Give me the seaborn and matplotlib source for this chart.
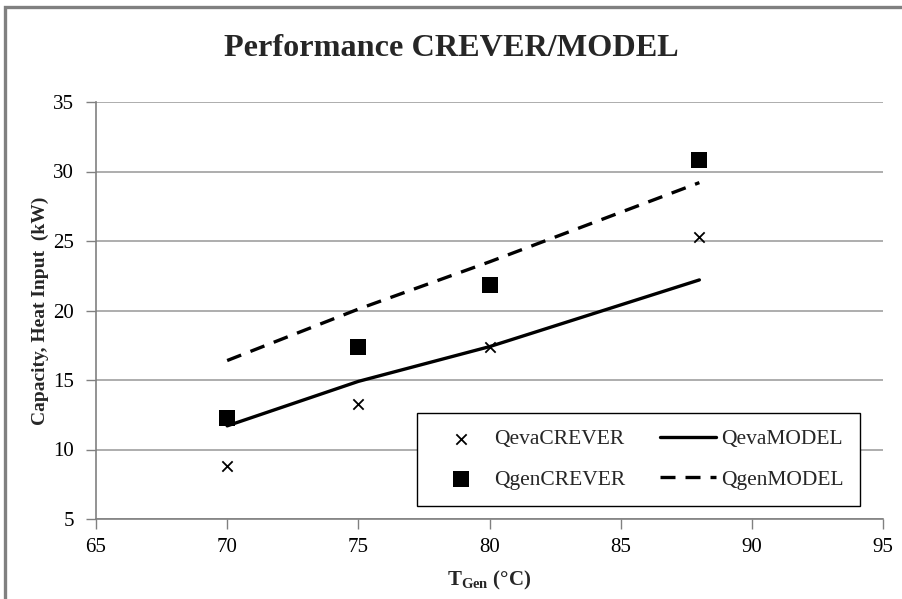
import matplotlib
matplotlib.use("Agg")
import matplotlib.pyplot as plt
import seaborn as sns
import pandas as pd
from matplotlib.patches import Rectangle

# ---- data ----
t_gen = [70, 75, 80, 88]
qeva_crever = [8.8, 13.3, 17.4, 25.3]
qgen_crever = [12.3, 17.4, 21.8, 30.8]
qeva_model = [11.7, 14.9, 17.4, 22.2]
qgen_model = [16.4, 20.1, 23.5, 29.2]
x_ticks = [65, 70, 75, 80, 85, 90, 95]
y_ticks = [5, 10, 15, 20, 25, 30, 35]

sns.set_style("white")
plt.rcParams['font.family'] = ['Liberation Serif', 'DejaVu Serif']
plt.rcParams['mathtext.fontset'] = 'custom'
plt.rcParams['mathtext.bf'] = 'Liberation Serif:bold'
plt.rcParams['mathtext.rm'] = 'Liberation Serif'
plt.rcParams['mathtext.it'] = 'Liberation Serif:italic'

df_pts = pd.DataFrame({"x": t_gen * 2,
                       "y": qeva_crever + qgen_crever,
                       "s": ["QevaCREVER"] * 4 + ["QgenCREVER"] * 4})
df_lines = pd.DataFrame({"x": t_gen * 2,
                         "y": qeva_model + qgen_model,
                         "s": ["QevaMODEL"] * 4 + ["QgenMODEL"] * 4})

fig = plt.figure(figsize=(9.03, 5.99), dpi=100)
ax = fig.add_axes([96/903, 1-519/599, (883-96)/903, (519-102)/599])

# outer chart border (left and top visible)
fig.patches.append(Rectangle((5/903, -0.1), 1.2, 1.1-7/599, transform=fig.transFigure,
                             fill=False, edgecolor="#808080", linewidth=2.4, zorder=0))

ax.grid(axis="y", color="#a0a0a0", linewidth=1.2)
ax.grid(axis="x", visible=False)
ax.set_axisbelow(True)

sns.lineplot(data=df_lines[df_lines.s == "QevaMODEL"], x="x", y="y", ax=ax,
             color="black", linewidth=2.4, label="QevaMODEL", zorder=3)
sns.lineplot(data=df_lines[df_lines.s == "QgenMODEL"], x="x", y="y", ax=ax,
             color="black", linewidth=2.4, label="QgenMODEL", zorder=3)
ax.lines[-1].set_dashes([4.5, 3.0])

sns.scatterplot(data=df_pts[df_pts.s == "QevaCREVER"], x="x", y="y", ax=ax,
                marker="x", color="black", s=55, linewidth=1.3,
                label="QevaCREVER", zorder=4)
sns.scatterplot(data=df_pts[df_pts.s == "QgenCREVER"], x="x", y="y", ax=ax,
                marker="s", color="black", s=125, linewidth=0,
                label="QgenCREVER", zorder=4)

ax.set_xlim(65, 95)
ax.set_ylim(5, 35)
ax.set_xticks(x_ticks)
ax.set_yticks(y_ticks)
ax.tick_params(axis="both", labelsize=15, colors="black", length=7,
               width=1.0, direction="out", color="#808080")
ax.tick_params(axis="y", pad=9)
ax.tick_params(axis="x", pad=7)
ax.xaxis.set_ticks_position("bottom")
ax.yaxis.set_ticks_position("left")

for side in ["top", "right"]:
    ax.spines[side].set_visible(False)
for side in ["left", "bottom"]:
    ax.spines[side].set_color("#808080")
    ax.spines[side].set_linewidth(1.2)

ax.set_xlabel(r"T$_{\mathbf{Gen}}$ (°C)", fontsize=15, fontweight="bold", labelpad=8)
ax.set_ylabel("Capacity, Heat Input  (kW)", fontsize=14, fontweight="bold", labelpad=3)

fig.suptitle("Performance CREVER/MODEL", fontsize=23.2, fontweight="bold", y=0.944)

handles, labels = ax.get_legend_handles_labels()
order = ["QevaCREVER", "QgenCREVER", "QevaMODEL", "QgenMODEL"]
hmap = dict(zip(labels, handles))
leg = ax.legend([hmap[k] for k in order], order, ncol=2, loc="lower right",
                bbox_to_anchor=((860-96)/787, (519-506)/417), fontsize=15.5,
                frameon=True, fancybox=False, edgecolor="black", framealpha=1,
                handlelength=2.6, columnspacing=1.6, labelspacing=0.95,
                borderpad=0.75, handletextpad=0.25, borderaxespad=0)
leg.get_frame().set_linewidth(1.0)

fig.savefig("out.png", dpi=100)
